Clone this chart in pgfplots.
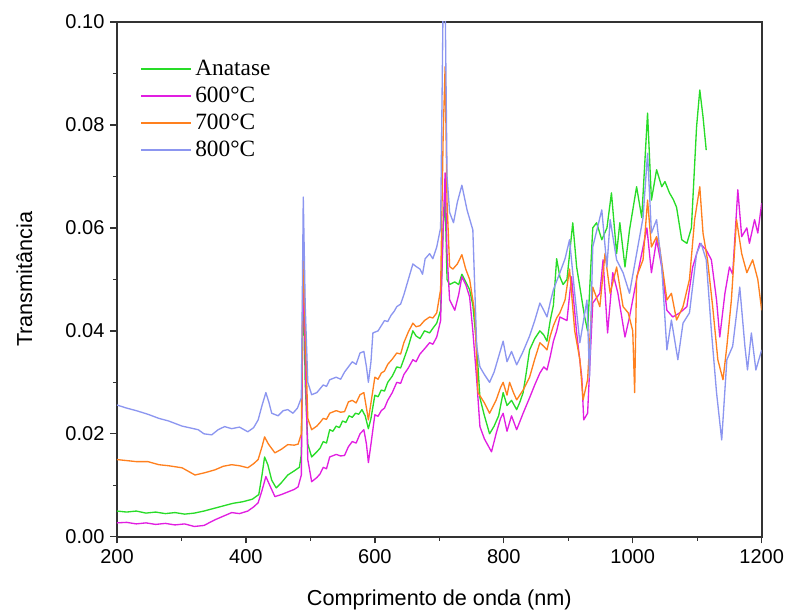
\documentclass[border=0pt]{standalone}
\usepackage{pgfplots}
\pgfplotsset{compat=1.18}
\usepackage{fontspec}
\setmainfont{Liberation Sans}
\newfontfamily\legfont{Liberation Serif}
\definecolor{cgreen}{RGB}{40,220,40}
\definecolor{cmag}{RGB}{225,30,225}
\definecolor{corange}{RGB}{255,128,30}
\definecolor{cblue}{RGB}{140,150,240}
\begin{document}
\begin{tikzpicture}
\useasboundingbox (-70.2pt,-47.4pt) rectangle (404.0pt,322.2pt);
\begin{axis}[
  scale only axis,
  width=387pt, height=309pt,
  xmin=200, xmax=1200, ymin=0, ymax=0.1,
  xtick={200,400,...,1200},
  ytick={0,0.02,0.04,0.06,0.08,0.10},
  minor x tick num=1, minor y tick num=1,
  tick pos=left, tick align=outside,
  major tick length=4pt, minor tick length=2.5pt,
  axis line style={line width=1pt, black!80},
  every tick/.style={black!80, line width=0.8pt},
  scaled y ticks=false,
  xticklabel style={/pgf/number format/set thousands separator={}},
  yticklabel style={/pgf/number format/fixed, /pgf/number format/fixed zerofill, /pgf/number format/precision=2},
  /pgf/number format/assume math mode=true,
  tick label style={font=\fontsize{12}{14}\selectfont},
  xlabel={Comprimento de onda (nm)},
  ylabel={Transmitância},
  label style={font=\fontsize{13}{15}\selectfont},
  xlabel style={yshift=-9pt},
  ylabel style={yshift=13pt},
  legend style={draw=none, fill=none, at={(rel axis cs:0.028,0.94)}, anchor=north west,
    font=\legfont\fontsize{14}{16}\selectfont, row sep=1.5pt,
    /tikz/every even column/.append style={column sep=1pt}},
  legend cell align=left,
  legend image code/.code={\draw[#1, line width=1pt] (0pt,0pt) -- (30pt,0pt);},
  every axis plot/.append style={line width=0.8pt, line join=round},
]
\addplot[cgreen] table {
200 0.0050
215 0.0048
230 0.0050
245 0.0046
260 0.0048
275 0.0045
290 0.0047
305 0.0044
320 0.0046
335 0.0050
350 0.0055
365 0.0060
380 0.0065
395 0.0068
410 0.0073
420 0.0082
425 0.0120
429 0.0155
434 0.0140
440 0.0110
447 0.0095
455 0.0105
465 0.0120
475 0.0128
483 0.0135
486 0.0160
489 0.0520
492 0.0300
496 0.0180
502 0.0155
510 0.0165
515 0.0172
520 0.0185
525 0.0182
530 0.0208
535 0.0205
540 0.0215
545 0.0212
550 0.0225
555 0.0222
560 0.0235
565 0.0232
570 0.0240
575 0.0238
580 0.0247
585 0.0235
590 0.0210
594 0.0230
600 0.0275
605 0.0272
610 0.0285
615 0.0283
620 0.0300
627 0.0312
634 0.0330
640 0.0328
645 0.0345
652 0.0370
659 0.0400
664 0.0390
670 0.0385
677 0.0400
685 0.0396
690 0.0405
696 0.0415
702 0.0440
706 0.0600
709 0.0660
712 0.0500
716 0.0490
724 0.0495
730 0.0490
735 0.0510
741 0.0495
747 0.0480
752 0.0450
758 0.0370
763 0.0270
770 0.0235
778 0.0200
785 0.0215
792 0.0235
799 0.0280
805 0.0255
812 0.0265
820 0.0247
825 0.0262
830 0.0280
835 0.0320
840 0.0363
848 0.0385
856 0.0400
862 0.0392
867 0.0380
872 0.0420
877 0.0450
882 0.0540
887 0.0505
892 0.0490
898 0.0500
907 0.0610
913 0.0524
918 0.0485
925 0.0430
930 0.0400
938 0.0600
944 0.0610
952 0.0577
960 0.0600
967 0.0668
975 0.0550
980 0.0610
988 0.0524
995 0.0596
1006 0.0680
1014 0.0620
1023 0.0823
1029 0.0654
1037 0.0713
1045 0.0680
1050 0.0690
1057 0.0668
1063 0.0655
1068 0.0640
1076 0.0577
1084 0.0570
1091 0.0600
1099 0.0796
1104 0.0868
1109 0.0816
1114 0.0751
};
\addlegendentry{Anatase}
\addplot[cmag] table {
200 0.0027
215 0.0028
230 0.0025
245 0.0027
260 0.0024
275 0.0026
290 0.0023
305 0.0025
320 0.0020
335 0.0022
352 0.0033
365 0.0040
378 0.0047
390 0.0045
403 0.0050
412 0.0058
419 0.0066
425 0.0090
431 0.0117
437 0.0100
445 0.0078
455 0.0082
465 0.0087
475 0.0092
481 0.0097
486 0.0120
489 0.0550
492 0.0350
496 0.0150
502 0.0107
510 0.0115
515 0.0122
520 0.0135
525 0.0132
530 0.0155
540 0.0160
547 0.0157
553 0.0158
559 0.0175
565 0.0185
571 0.0182
577 0.0200
583 0.0208
587 0.0180
590 0.0144
594 0.0180
600 0.0237
605 0.0234
610 0.0245
615 0.0250
620 0.0265
627 0.0280
634 0.0300
640 0.0298
645 0.0315
652 0.0328
659 0.0344
664 0.0340
670 0.0355
677 0.0365
685 0.0377
690 0.0374
696 0.0388
702 0.0420
706 0.0600
709 0.0707
712 0.0550
716 0.0460
724 0.0440
730 0.0470
735 0.0505
741 0.0490
747 0.0466
752 0.0400
758 0.0305
763 0.0214
770 0.0190
781 0.0165
788 0.0200
795 0.0230
799 0.0240
805 0.0205
812 0.0235
820 0.0208
830 0.0240
840 0.0270
848 0.0295
856 0.0318
862 0.0330
867 0.0324
872 0.0350
877 0.0380
882 0.0400
887 0.0427
898 0.0420
905 0.0505
913 0.0396
921 0.0310
924 0.0227
930 0.0240
938 0.0454
949 0.0473
954 0.0538
961 0.0396
969 0.0513
977 0.0473
988 0.0388
995 0.0427
1008 0.0513
1022 0.0600
1029 0.0513
1037 0.0577
1045 0.0524
1053 0.0440
1062 0.0427
1073 0.0435
1084 0.0447
1093 0.0524
1104 0.0570
1114 0.0557
1122 0.0538
1130 0.0460
1135 0.0388
1143 0.0473
1150 0.0524
1155 0.0510
1163 0.0674
1169 0.0583
1177 0.0600
1181 0.0570
1189 0.0616
1194 0.0590
1200 0.0648
};
\addlegendentry{600°C}
\addplot[corange] table {
200 0.0150
215 0.0148
230 0.0146
248 0.0146
265 0.0140
280 0.0138
301 0.0134
321 0.0120
335 0.0124
352 0.0130
365 0.0137
378 0.0140
390 0.0138
403 0.0134
412 0.0142
419 0.0150
425 0.0175
429 0.0194
435 0.0180
445 0.0163
455 0.0170
465 0.0179
475 0.0178
481 0.0180
486 0.0200
489 0.0580
492 0.0400
496 0.0230
502 0.0208
510 0.0215
515 0.0222
520 0.0230
525 0.0228
530 0.0240
540 0.0245
547 0.0242
553 0.0243
559 0.0262
565 0.0265
571 0.0260
577 0.0276
583 0.0280
587 0.0250
590 0.0227
594 0.0260
600 0.0310
605 0.0306
610 0.0318
615 0.0322
620 0.0335
627 0.0345
634 0.0357
640 0.0355
645 0.0377
652 0.0398
659 0.0415
664 0.0408
670 0.0410
677 0.0420
685 0.0427
690 0.0425
696 0.0435
702 0.0480
706 0.0780
709 0.0913
712 0.0650
716 0.0525
721 0.0520
728 0.0530
735 0.0548
741 0.0520
747 0.0500
755 0.0435
760 0.0280
770 0.0260
778 0.0240
788 0.0265
795 0.0290
799 0.0300
805 0.0275
809 0.0300
815 0.0280
820 0.0266
830 0.0285
840 0.0310
848 0.0345
856 0.0377
862 0.0370
867 0.0363
872 0.0390
877 0.0410
882 0.0425
887 0.0435
895 0.0460
902 0.0520
910 0.0400
918 0.0344
923 0.0266
930 0.0305
938 0.0485
949 0.0447
957 0.0550
965 0.0473
975 0.0524
985 0.0447
993 0.0435
1000 0.0400
1003 0.0280
1006 0.0505
1016 0.0538
1023 0.0654
1029 0.0563
1037 0.0583
1042 0.0560
1053 0.0460
1060 0.0473
1068 0.0421
1078 0.0447
1088 0.0500
1096 0.0616
1104 0.0680
1109 0.0590
1116 0.0538
1124 0.0447
1132 0.0344
1140 0.0305
1146 0.0370
1153 0.0460
1161 0.0616
1169 0.0550
1177 0.0513
1186 0.0538
1194 0.0500
1200 0.0440
};
\addlegendentry{700°C}
\addplot[cblue] table {
200 0.0256
215 0.0250
230 0.0245
248 0.0238
265 0.0230
280 0.0225
301 0.0215
326 0.0208
335 0.0200
347 0.0198
357 0.0208
367 0.0214
378 0.0210
390 0.0213
403 0.0204
412 0.0212
419 0.0227
425 0.0255
431 0.0280
436 0.0260
440 0.0240
450 0.0235
458 0.0245
465 0.0247
473 0.0240
480 0.0250
486 0.0270
489 0.0660
492 0.0450
496 0.0300
502 0.0276
510 0.0280
520 0.0295
525 0.0292
530 0.0305
540 0.0310
547 0.0306
553 0.0320
559 0.0330
565 0.0340
571 0.0335
577 0.0357
583 0.0360
587 0.0330
590 0.0300
594 0.0340
597 0.0396
605 0.0400
610 0.0410
615 0.0420
620 0.0418
625 0.0430
630 0.0438
634 0.0447
640 0.0452
645 0.0470
652 0.0500
659 0.0530
664 0.0525
670 0.0520
674 0.0510
678 0.0540
685 0.0550
690 0.0540
696 0.0563
702 0.0600
706 0.1050
709 0.1050
712 0.0700
716 0.0630
722 0.0610
728 0.0650
735 0.0683
743 0.0635
752 0.0596
758 0.0370
763 0.0330
770 0.0315
778 0.0300
785 0.0320
792 0.0350
799 0.0380
805 0.0340
812 0.0360
820 0.0334
830 0.0360
840 0.0390
848 0.0420
856 0.0454
862 0.0440
867 0.0427
872 0.0455
877 0.0480
887 0.0513
895 0.0540
902 0.0577
910 0.0473
918 0.0377
929 0.0460
933 0.0310
938 0.0563
952 0.0635
960 0.0524
965 0.0616
975 0.0538
985 0.0513
995 0.0473
1006 0.0550
1016 0.0620
1023 0.0745
1029 0.0590
1037 0.0616
1045 0.0524
1053 0.0363
1060 0.0421
1070 0.0344
1078 0.0415
1088 0.0435
1099 0.0550
1106 0.0570
1114 0.0538
1122 0.0400
1130 0.0280
1138 0.0188
1146 0.0344
1155 0.0370
1166 0.0485
1174 0.0370
1178 0.0324
1184 0.0396
1191 0.0324
1200 0.0363
};
\addlegendentry{800°C}
\end{axis}
\end{tikzpicture}
\end{document}
